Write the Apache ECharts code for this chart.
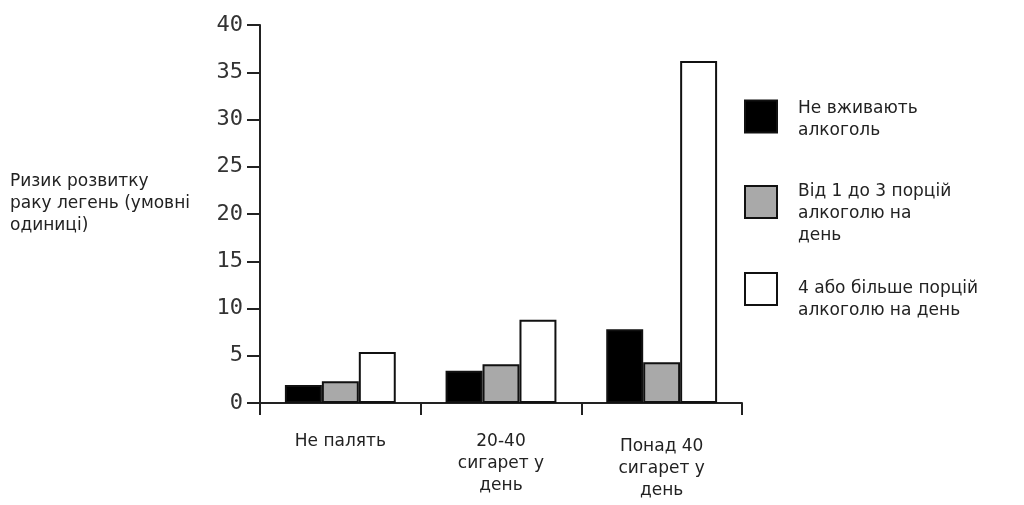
<!DOCTYPE html>
<html>
<head>
<meta charset="utf-8">
<script src="https://cdn.jsdelivr.net/npm/echarts@6/dist/echarts.min.js"></script>
<style>
  html, body { margin: 0; padding: 0; background: #fff; }
  #chart { width: 1024px; height: 505px; }
</style>
</head>
<body>
<div id="chart"></div>
<script>
// категорії по осі X
const categories = ['Не палять', '20-40\nсигарет у\nдень', 'Понад 40\nсигарет у\nдень']
// назви серій (легенда)
const seriesNames = ['Не вживають\nалкоголь', 'Від 1 до 3 порцій\nалкоголю на\nдень', '4 або більше порцій\nалкоголю на день']
// значення ризику
const noAlcohol = [1.9, 3.4, 7.8]
const oneToThree = [2.3, 4.1, 4.3]
const fourPlus = [5.4, 8.8, 36.2]
const seriesColors = ['#000000', '#a9a9a9', '#ffffff']
const yTitle = 'Ризик розвитку\nраку легень (умовні\nодиниці)'

const font = '"DejaVu Sans", "Noto Sans", sans-serif'
const chart = echarts.init(document.getElementById('chart'), null, { renderer: 'canvas' })

const values = [noAlcohol, oneToThree, fourPlus]
// положення легенд (по одній на серію)
const legendTops = [81, 152, 251]
// порожній рядок зверху, щоб зсунути текст відносно квадрата
const legendShift = [6, 24, 22]

// третій підпис трохи нижче, як в оригіналі
const xData = categories.map((c, i) => i === 2 ? { value: c, textStyle: { padding: [5, 0, 0, 0] } } : c)

let option = {
  backgroundColor: '#fff',
  animation: false,
  title: {
    text: yTitle,
    left: 5,
    top: 166,
    textStyle: {
      fontFamily: font,
      fontSize: 17,
      fontWeight: 'normal',
      color: '#222',
      lineHeight: 22
    }
  },
  legend: seriesNames.map((name, i) => ({
    data: [name],
    orient: 'vertical',
    left: 739,
    top: legendTops[i],
    itemWidth: 32,
    itemHeight: 32,
    itemGap: 0,
    icon: 'rect',
    selectedMode: false,
    formatter: n => '{p|}\n' + n,
    textStyle: {
      fontFamily: font,
      fontSize: 17,
      color: '#222',
      lineHeight: 22,
      padding: [0, 0, 0, 16],
      rich: {
        p: { height: legendShift[i], lineHeight: legendShift[i] }
      }
    }
  })),
  grid: {
    left: 260,
    right: 282,
    top: 25,
    bottom: 102,
    containLabel: false
  },
  xAxis: {
    type: 'category',
    data: xData,
    axisLine: { lineStyle: { color: '#222', width: 2 } },
    axisTick: { show: true, length: 12, lineStyle: { color: '#222', width: 2 } },
    axisLabel: {
      margin: 28,
      fontFamily: font,
      fontSize: 17,
      color: '#222',
      lineHeight: 22,
      interval: 0
    },
    splitLine: { show: false }
  },
  yAxis: {
    type: 'value',
    min: 0,
    max: 40,
    interval: 5,
    axisLine: { show: true, lineStyle: { color: '#222', width: 2 } },
    axisTick: { show: true, length: 13, lineStyle: { color: '#222', width: 2 } },
    axisLabel: {
      margin: 17,
      fontFamily: '"DejaVu Sans Mono", monospace',
      fontSize: 22,
      color: '#333'
    },
    splitLine: { show: false }
  },
  series: seriesNames.map((name, i) => ({
    name: name,
    type: 'bar',
    data: values[i],
    barGap: '0%',
    barCategoryGap: '31%',
    itemStyle: {
      color: seriesColors[i],
      borderColor: '#111',
      borderWidth: 2
    }
  }))
}

chart.setOption(option)
</script>
</body>
</html>
